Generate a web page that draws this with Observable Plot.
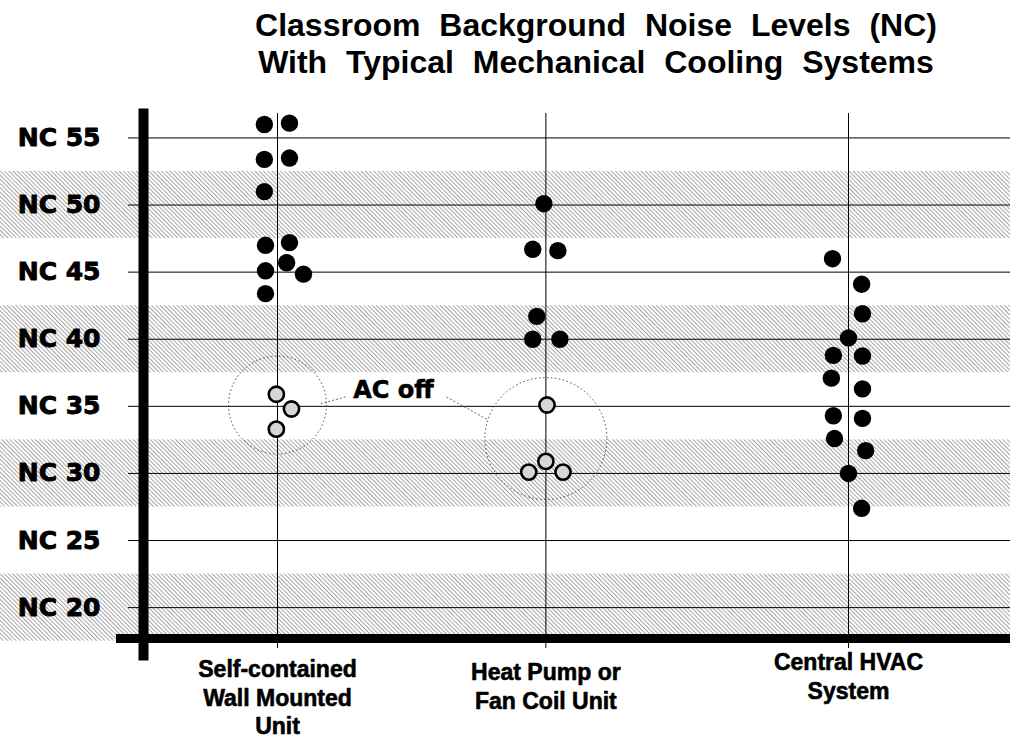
<!DOCTYPE html>
<html>
<head>
<meta charset="utf-8">
<script src="https://cdn.jsdelivr.net/npm/d3@7"></script>
<script src="https://cdn.jsdelivr.net/npm/@observablehq/plot@0.6"></script>
<style>
  body { margin: 0; background: #fff; font-family: "Liberation Sans", Arial, sans-serif; }
  #title {
    width: 1010px; height: 95px; box-sizing: border-box;
    padding: 7px 0 0 182px; text-align: center;
    font-weight: bold; font-size: 32px; line-height: 37px; word-spacing: 10px; color: #000;
  }
</style>
</head>
<body>
<div id="title">Classroom Background Noise Levels (NC)<br>With Typical Mechanical Cooling Systems</div>
<div id="chart"></div>
<script>
// ---------- data ----------
const categories = ["Self-contained\nWall Mounted\nUnit", "Heat Pump or\nFan Coil Unit", "Central HVAC\nSystem"];
const yTicks = [20, 25, 30, 35, 40, 45, 50, 55];
const shadedBands = [[17.5, 22.5], [27.5, 32.5], [37.5, 42.5], [47.5, 52.5]];

// AC running (filled dots): NC value and horizontal jitter (column units)
const wallUnitNC     = [56.0, 56.1, 53.4, 53.5, 51.0, 47.0, 47.2, 45.7, 44.85, 45.1, 43.4];
const wallUnitJitter = [-0.046, 0.042, -0.046, 0.042, -0.046, -0.042, 0.042, 0.032, 0.091, -0.042, -0.042];
const heatPumpNC     = [50.1, 46.7, 46.6, 41.7, 40.0, 40.0];
const heatPumpJitter = [-0.007, -0.046, 0.042, -0.032, -0.046, 0.049];
const centralNC      = [46.0, 44.1, 41.9, 40.1, 38.8, 38.75, 37.1, 36.3, 34.3, 34.1, 32.6, 31.7, 30.0, 27.4];
const centralJitter  = [-0.056, 0.046, 0.049, 0, -0.053, 0.049, -0.06, 0.049, -0.053, 0.049, -0.049, 0.06, 0, 0.046];

// AC off (open dots)
const wallUnitOffNC     = [35.9, 34.8, 33.3];
const wallUnitOffJitter = [-0.004, 0.049, -0.004];
const heatPumpOffNC     = [35.1, 30.9, 30.1, 30.1];
const heatPumpOffJitter = [0.004, 0, -0.06, 0.06];

const acOffLabel = "AC off";

// ---------- layout ----------
const columnPos = [1, 1.94, 3];
const acOffGroups = [{col: 0, nc: 35.1}, {col: 1, nc: 32.6}];
const acOffLabelPos = {x: 1.406, nc: 36.2};
const acOffLeaders = [
  {x1: 1.151, y1: 35.2, x2: 1.238, y2: 35.7},
  {x1: 1.592, y1: 35.7, x2: 1.736, y2: 34.0}
];
const labelDy = [18, 21, 11];

function rows(cat, nc, jit) {
  return nc.map((v, i) => ({cat: categories[cat], nc: v, x: columnPos[cat] + jit[i]}));
}
const acOn = [
  ...rows(0, wallUnitNC, wallUnitJitter),
  ...rows(1, heatPumpNC, heatPumpJitter),
  ...rows(2, centralNC, centralJitter)
];
const acOff = [
  ...rows(0, wallUnitOffNC, wallUnitOffJitter),
  ...rows(1, heatPumpOffNC, heatPumpOffJitter)
];

const font = "'Liberation Sans', Arial, Helvetica, sans-serif";
const heavy = "'DejaVu Sans', 'Liberation Sans', sans-serif";

const chart = Plot.plot({
  width: 1010,
  height: 649,
  marginLeft: 143,
  marginRight: 0,
  marginTop: 18,
  marginBottom: 106,
  style: {fontFamily: font, background: "#fff", overflow: "visible", color: "#000"},
  x: {domain: [1, 3], range: [277, 848], axis: null},
  y: {domain: [17.7, 56.82]},
  marks: [
    Plot.rect(shadedBands, {y1: d => d[0], y2: d => d[1], fill: "url(#hatch)", insetLeft: -143}),
    Plot.ruleY(yTicks, {stroke: "#000", strokeWidth: 1, insetLeft: -15}),
    Plot.ruleX(columnPos, {stroke: "#000", strokeWidth: 1, insetBottom: -10}),
    Plot.dot(acOffGroups.filter(d => d.col === 0), {x: d => columnPos[d.col], y: "nc", r: 49, fill: "none", stroke: "#444", strokeWidth: 1, strokeDasharray: "1.5,2.5"}),
    Plot.dot(acOffGroups.filter(d => d.col === 1), {x: d => columnPos[d.col], y: "nc", r: 61, fill: "none", stroke: "#444", strokeWidth: 1, strokeDasharray: "1.5,2.5"}),
    Plot.link(acOffLeaders, {x1: "x1", y1: "y1", x2: "x2", y2: "y2", stroke: "#666", strokeWidth: 1, strokeDasharray: "2,2"}),
    Plot.text([acOffLabel], {x: acOffLabelPos.x, y: acOffLabelPos.nc, fontSize: 24, fontWeight: "bold", fontFamily: heavy, fill: "#000", stroke: "#000", strokeWidth: 0.6}),
    Plot.dot(acOn, {x: "x", y: "nc", r: 8.7, fill: "#000", stroke: "none"}),
    Plot.dot(acOff, {x: "x", y: "nc", r: 7.6, fill: "#d6d6d6", stroke: "#000", strokeWidth: 2.6}),
    Plot.axisY(yTicks, {tickSize: 0, tickPadding: 43, tickFormat: d => `NC ${d}`, fontSize: 25, fontWeight: "bold", fontFamily: heavy, label: null, fill: "#000", textStroke: "#000", textStrokeWidth: 0.9}),
    Plot.frame({anchor: "left", stroke: "#000", strokeWidth: 10, insetBottom: -17}),
    Plot.frame({anchor: "bottom", stroke: "#000", strokeWidth: 9, insetLeft: -23}),
    ...categories.map((c, i) => Plot.text([c], {
      x: columnPos[i], frameAnchor: "bottom", lineAnchor: "top", dy: labelDy[i],
      fontSize: 23, fontWeight: "bold", lineHeight: 1.25, fill: "#000",
      stroke: "#000", strokeWidth: 0.6
    }))
  ]
});

const ns = "http://www.w3.org/2000/svg";
const defs = document.createElementNS(ns, "defs");
defs.innerHTML = `<pattern id="hatch" patternUnits="userSpaceOnUse" width="3" height="3" patternTransform="rotate(-45)">
  <rect width="3" height="3" fill="#fff"/>
  <line x1="0.5" y1="0" x2="0.5" y2="3" stroke="#a6a6a6" stroke-width="1"/>
</pattern>`;
chart.prepend(defs);
document.getElementById("chart").appendChild(chart);
</script>
</body>
</html>
